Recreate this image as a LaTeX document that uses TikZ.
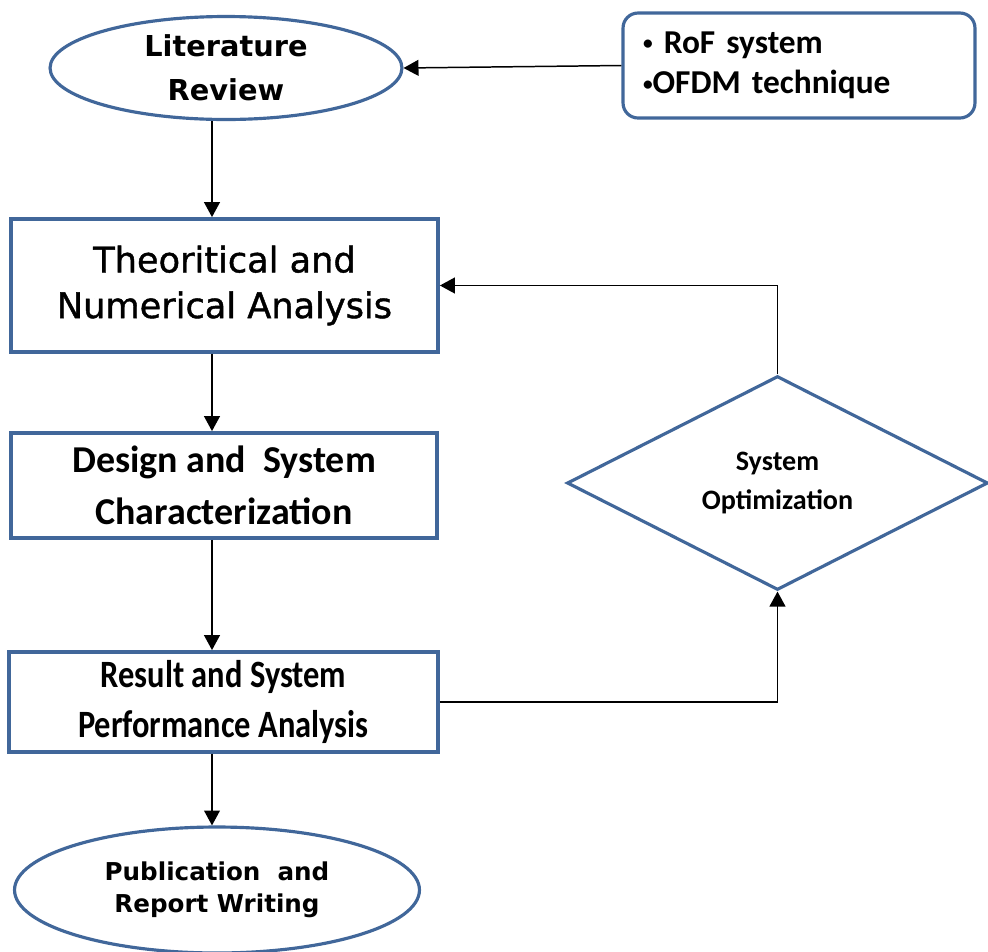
\documentclass[tikz,border=0pt]{standalone}
\usepackage{fontspec}
\setmainfont{Carlito}
\newfontfamily\widefont{DejaVu Sans}
\newfontfamily\mediumfont[FakeBold=1.2]{DejaVu Sans}
\newfontfamily\narrowfont[FakeStretch=0.84]{Carlito}
\usetikzlibrary{shapes.geometric,arrows.meta}
\definecolor{boxblue}{HTML}{41679A}
\newcommand{\smallbullet}{\raisebox{2pt}{\fontsize{11}{11}\selectfont\textbullet}}

\begin{document}
\begin{tikzpicture}
  [x=0.02cm,y=-0.02cm,
   oval node/.style={ellipse,draw=boxblue,line width=1.8pt,inner sep=0pt,align=center},
   box node/.style={rectangle,draw=boxblue,line width=2.2pt,inner sep=0pt,align=center},
   note node/.style={rectangle,rounded corners=0.3cm,draw=boxblue,line width=1.8pt,
     minimum width=7.04cm,minimum height=2.1cm,inner xsep=0.4cm,text width=6.24cm,align=left},
   decision node/.style={diamond,draw=boxblue,line width=1.8pt,inner sep=0pt,align=center},
   flow/.style={-{Triangle[length=8.5pt,width=9pt]},line width=0.85pt}]
  \clip (0,0) rectangle (988,951);
  \fill[white] (0,0) rectangle (988,951);

  \node[oval node,minimum width=7.04cm,minimum height=2.06cm,
    font=\widefont\bfseries\fontsize{16.4}{25}\selectfont] (lit) at (226,68) {Literature\\Review};
  \node[note node,font=\bfseries\fontsize{19}{23}\selectfont] (note) at (799,65.5)
    {\smallbullet\ RoF system\\\smallbullet OFDM technique};
  \node[box node,minimum width=8.54cm,minimum height=2.66cm,
    font=\mediumfont\fontsize{20}{26}\selectfont] (theo) at (224.5,285.5) {Theoritical and\\Numerical Analysis};
  \node[box node,minimum width=8.52cm,minimum height=2.1cm,
    font=\bfseries\fontsize{21.6}{29.5}\selectfont] (design) at (224,485.5) {Design and \ System\\Characterization};
  \node[box node,minimum width=8.58cm,minimum height=2.0cm,
    font=\narrowfont\bfseries\fontsize{22}{28}\selectfont] (result) at (223.5,702) {Result and System\\Performance Analysis};
  \node[oval node,minimum width=8.1cm,minimum height=2.52cm,
    font=\widefont\bfseries\fontsize{14}{18}\selectfont] (pub) at (217,890) {Publication \ and\\Report Writing};
  \node[decision node,minimum width=8.42cm,minimum height=4.28cm,
    font=\bfseries\fontsize{16}{22}\selectfont] (opt) at (777.5,483) {System\\Optimization};
  \coordinate (spine) at (212,0);

  \path[] (note.west) [flow] edge node [] {} (lit.east);
  \path[] (lit.south -| spine) [flow] edge node [] {} (theo.north -| spine);
  \path[] (theo.south -| spine) [flow] edge node [] {} (design.north -| spine);
  \path[] (design.south -| spine) [flow] edge node [] {} (result.north -| spine);
  \path[] (result.south -| spine) [flow] edge node [] {} (pub.north -| spine);
  \draw[flow] (result.east) -| (opt.south);
  \draw[flow] (opt.north) |- (theo.east);
\end{tikzpicture}
\end{document}
